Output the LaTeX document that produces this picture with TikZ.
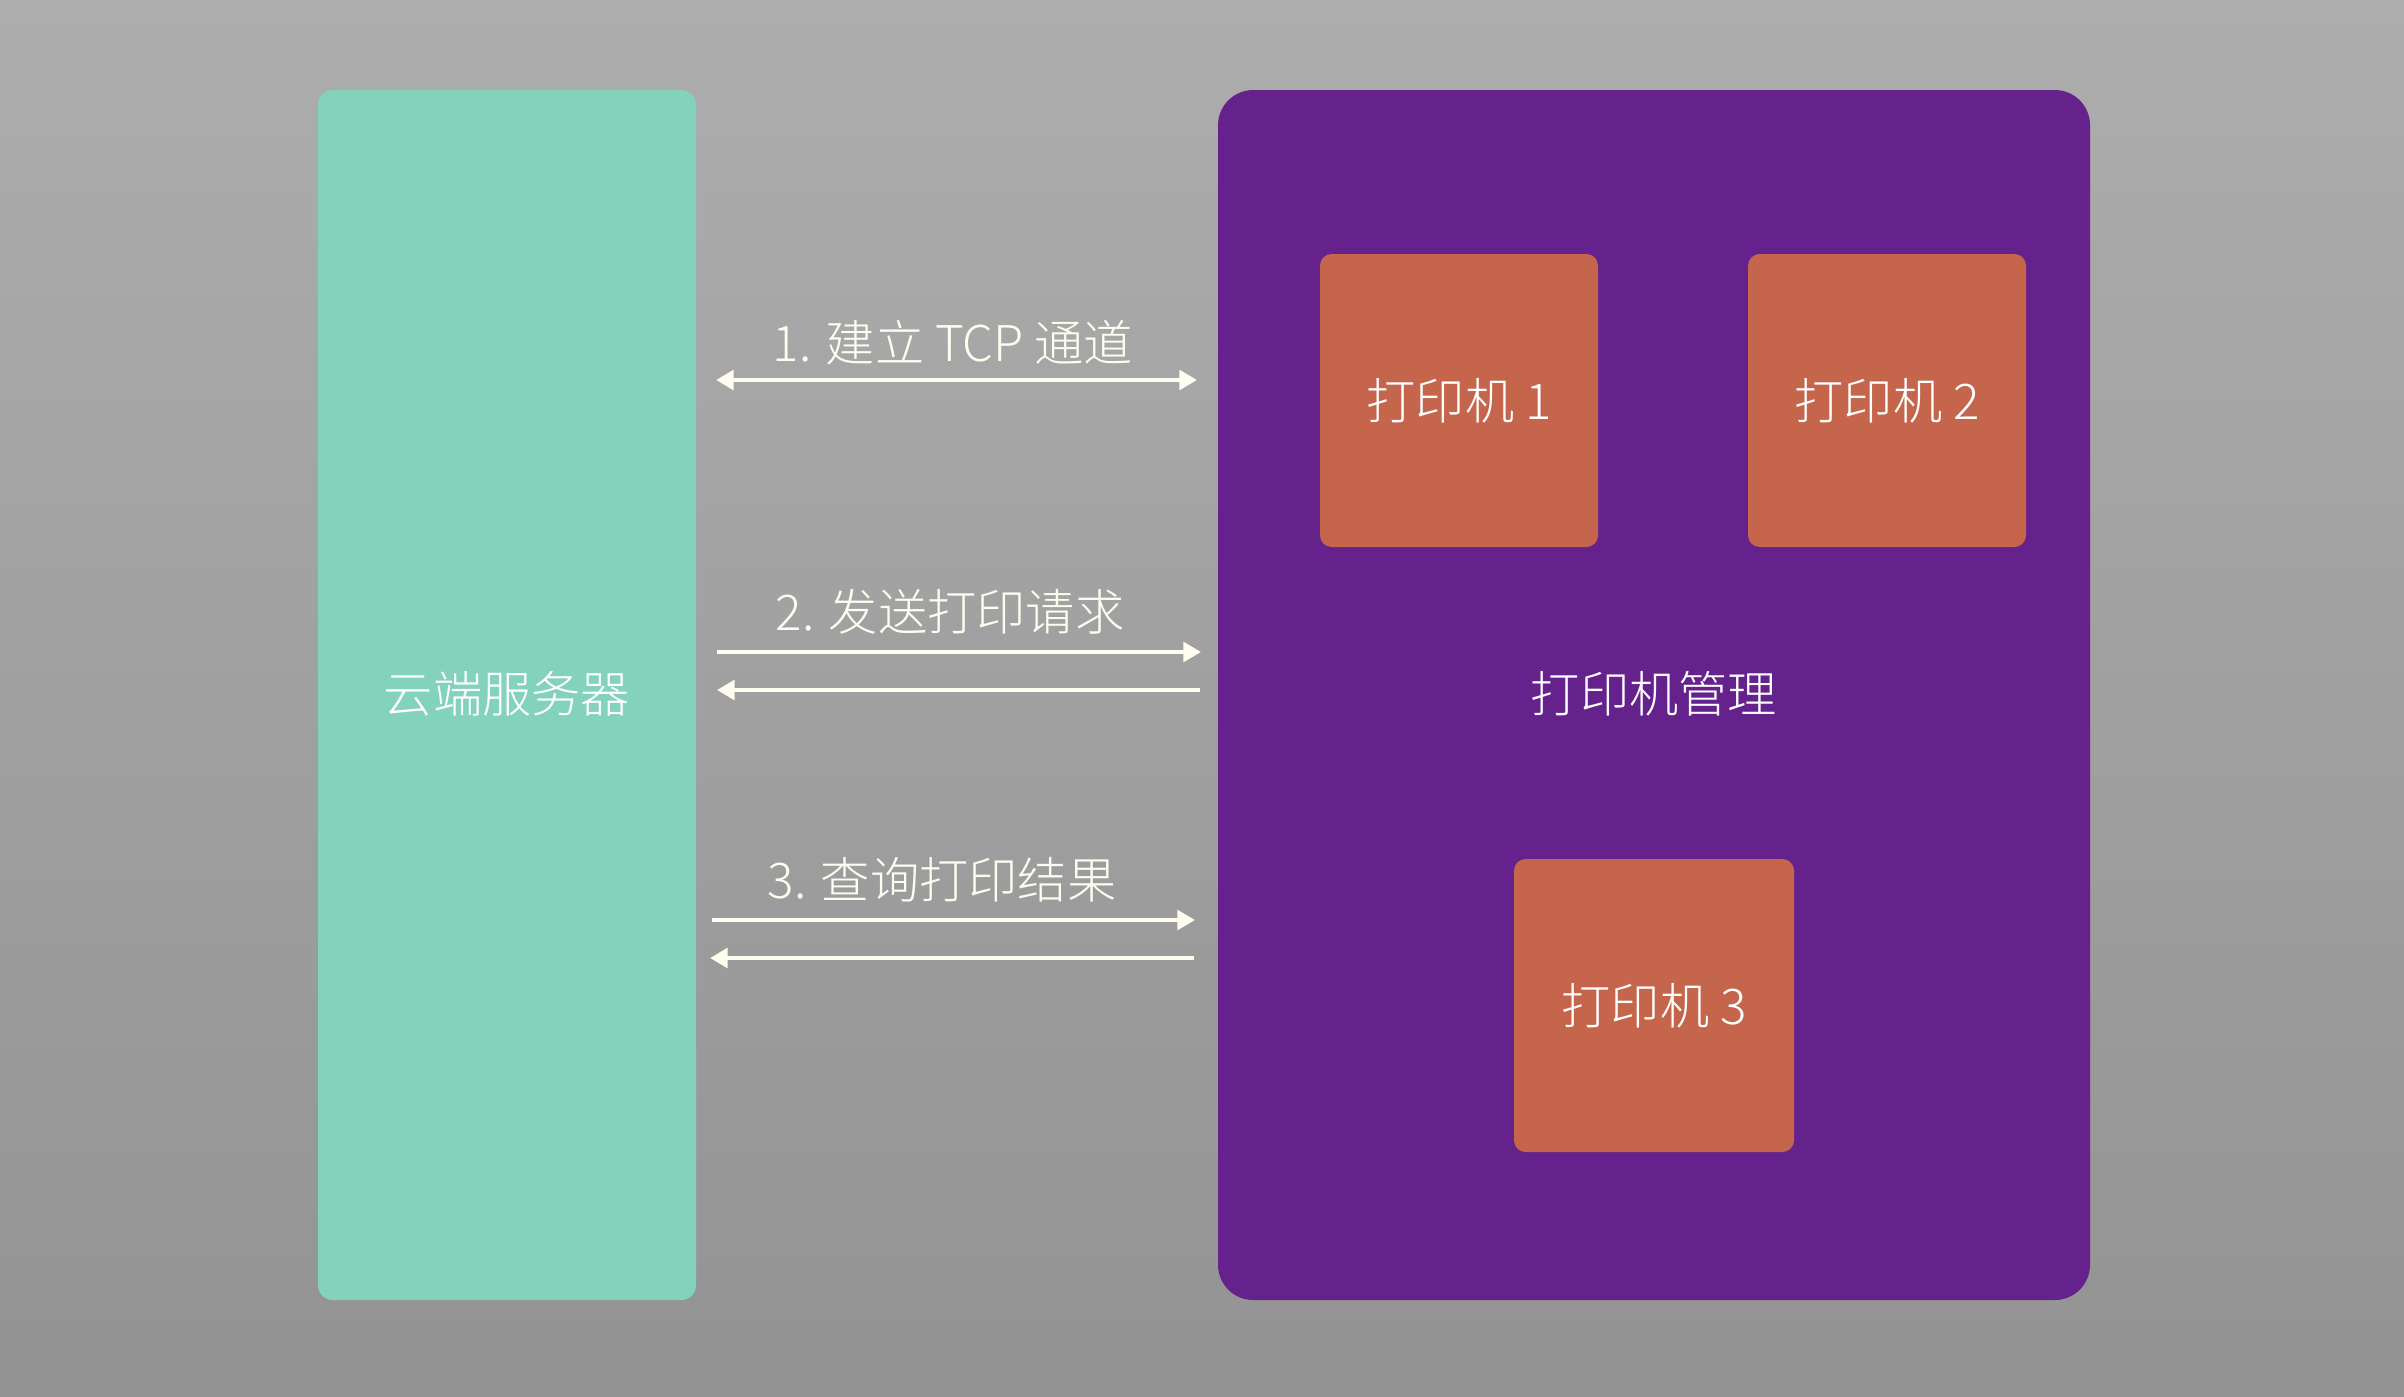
\documentclass[tikz,border=0pt]{standalone}
\usepackage{fontspec}
\setmainfont{Noto Sans CJK SC Light}
\usetikzlibrary{arrows.meta}
\definecolor{bgtop}{HTML}{ADADAD}
\definecolor{bgbot}{HTML}{939393}
\definecolor{cloudc}{HTML}{82D2BC}
\definecolor{mgrc}{HTML}{66228C}
\definecolor{prnc}{HTML}{C4654C}
\definecolor{ink}{HTML}{FFFDF0}
\tikzset{
  lbl/.style={text=ink, font=\fontsize{14}{16}\selectfont, inner sep=0pt},
  conn/.style={draw=ink, line width=1.3pt, -{Triangle[length=5pt,width=5.5pt]}},
  biconn/.style={draw=ink, line width=1.3pt, {Triangle[length=5pt,width=5.5pt]}-{Triangle[length=5pt,width=5.5pt]}},
}
\begin{document}
\begin{tikzpicture}[x=0.01cm,y=-0.01cm]
\useasboundingbox (0,0) rectangle (2404,1396);
\shade[top color=bgtop, bottom color=bgbot] (0,0) rectangle (2404,1396);
% boxes
\fill[cloudc, rounded corners=4.2pt] (318,90) rectangle (696,1300);
\node[lbl, text=white] (cloud) at (507,694) {云端服务器};
\fill[mgrc, rounded corners=10pt] (1218,90) rectangle (2090,1300);
\node[lbl, text=white] (mgr) at (1654,694) {打印机管理};
\fill[prnc, rounded corners=3.3pt] (1320,254) rectangle (1598,547);
\node[lbl, text=white] (p1) at (1459,401) {打印机 1};
\fill[prnc, rounded corners=3.3pt] (1748,254) rectangle (2026,547);
\node[lbl, text=white] (p2) at (1887,401) {打印机 2};
\fill[prnc, rounded corners=3.3pt] (1514,859) rectangle (1794,1152);
\node[lbl, text=white] (p3) at (1654,1006) {打印机 3};
% connector anchors
\coordinate (a1l) at (716,380); \coordinate (a1r) at (1197,380);
\coordinate (a2l) at (717,652); \coordinate (a2r) at (1201,652);
\coordinate (b2l) at (717,690); \coordinate (b2r) at (1200,690);
\coordinate (a3l) at (712,920); \coordinate (a3r) at (1195,920);
\coordinate (b3l) at (710,958); \coordinate (b3r) at (1194,958);
\draw[biconn] (a1l) -- (a1r);
\draw[conn] (a2l) -- (a2r);
\draw[conn] (b2r) -- (b2l);
\draw[conn] (a3l) -- (a3r);
\draw[conn] (b3r) -- (b3l);
\node[lbl] (l1) at (953,343) {1. 建立 TCP 通道};
\node[lbl] (l2) at (950,612) {2. 发送打印请求};
\node[lbl] (l3) at (942,880) {3. 查询打印结果};
\end{tikzpicture}
\end{document}
